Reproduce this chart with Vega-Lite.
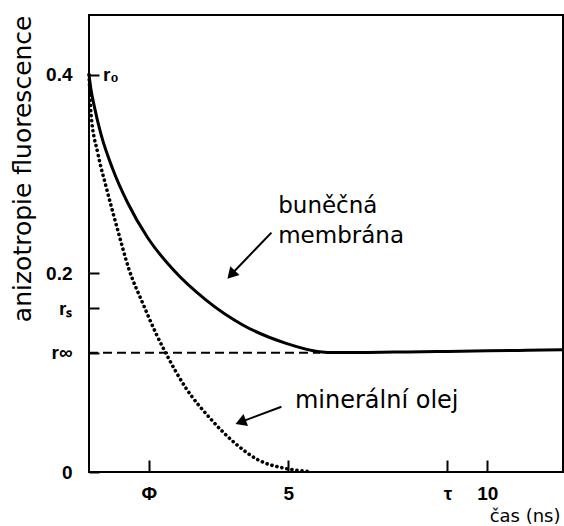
{
  "$schema": "https://vega.github.io/schema/vega-lite/v6.json",
  "width": 474,
  "height": 457,
  "autosize": "none",
  "padding": {"left": 89, "top": 15, "right": 1, "bottom": 54},
  "background": "white",
  "config": {
    "view": {"stroke": "black", "strokeWidth": 2},
    "font": "DejaVu Sans",
    "axis": {"domain": false, "grid": false, "tickColor": "black", "tickWidth": 2, "labelColor": "black", "titleColor": "black", "labelFont": "Liberation Sans", "labelFontWeight": "bold", "titleFont": "DejaVu Sans", "titleFontWeight": "normal"}
  },
  "datasets": {
    "membrane": [
      {"t": 0, "r": 0.40}, {"t": 0.05, "r": 0.385}, {"t": 0.133, "r": 0.368}, {"t": 0.30, "r": 0.340},
      {"t": 0.595, "r": 0.305}, {"t": 0.97, "r": 0.271}, {"t": 1.47, "r": 0.236}, {"t": 2.14, "r": 0.2025},
      {"t": 2.94, "r": 0.173}, {"t": 3.86, "r": 0.148}, {"t": 4.95, "r": 0.1295}, {"t": 5.78, "r": 0.1211},
      {"t": 6.2, "r": 0.1202}, {"t": 7, "r": 0.1204}, {"t": 8, "r": 0.1209}, {"t": 9, "r": 0.1214},
      {"t": 10, "r": 0.122}, {"t": 11, "r": 0.1225}, {"t": 11.9, "r": 0.123}
    ],
    "oil": [
      {"t": 0, "r": 0.40}, {"t": 0.05, "r": 0.361}, {"t": 0.22, "r": 0.321}, {"t": 0.43, "r": 0.287},
      {"t": 0.72, "r": 0.2436}, {"t": 1.01, "r": 0.2033}, {"t": 1.35, "r": 0.1698}, {"t": 1.68, "r": 0.1396},
      {"t": 1.93, "r": 0.1195}, {"t": 2.41, "r": 0.0859}, {"t": 3.08, "r": 0.0523}, {"t": 3.67, "r": 0.0289},
      {"t": 4.25, "r": 0.0121}, {"t": 4.92, "r": 0.0037}, {"t": 5.59, "r": 0.0003}
    ],
    "rinf": [{"t": 0, "r": 0.12}, {"t": 5.8, "r": 0.12}],
    "arrows": [
      {"id": "m", "t": 4.58, "r": 0.241, "t2": 3.6, "r2": 0.2},
      {"id": "o", "t": 4.83, "r": 0.0657, "t2": 3.85, "r2": 0.051}
    ],
    "heads": [
      {"id": "m", "t": 3.6, "r": 0.2},
      {"id": "o", "t": 3.85, "r": 0.051}
    ],
    "labels": [
      {"id": "m", "t": 4.75, "r": 0.2607, "text": ["buněčná", "membrána"]},
      {"id": "o", "t": 5.17, "r": 0.0644, "text": ["minerální olej"]},
      {"id": "r0", "t": 0.35, "r": 0.4, "text": ["r₀"]}
    ]
  },
  "encoding": {
    "x": {"field": "t", "type": "quantitative", "scale": {"domain": [0, 11.9], "nice": false, "zero": false},
      "axis": {"values": [1.5, 5, 9, 10], "labelExpr": "datum.value == 1.5 ? 'Φ' : datum.value == 9 ? 'τ' : datum.value == 5 ? '5' : '10'", "tickSize": -12, "labelPadding": 24, "labelFontSize": 19, "title": "čas (ns)", "titleAnchor": "end", "titleX": 471, "titleFontSize": 18, "titlePadding": 4}},
    "y": {"field": "r", "type": "quantitative", "scale": {"domain": [0, 0.46], "nice": false},
      "axis": {"values": [0, 0.12, 0.165, 0.2, 0.4], "labelExpr": "datum.value == 0.4 ? '0.4' : datum.value == 0.2 ? '0.2' : datum.value == 0.165 ? 'rₛ' : datum.value == 0.12 ? 'r∞' : '0'", "tickSize": -10, "labelPadding": 27, "labelFontSize": 19, "title": "anizotropie fluorescence", "titleFontSize": 25, "titleAnchor": "end", "titlePadding": 10}}
  },
  "layer": [
    {"data": {"name": "rinf"}, "mark": {"type": "line", "color": "black", "strokeWidth": 2, "strokeDash": [9, 5]}},
    {"data": {"name": "oil"}, "mark": {"type": "line", "color": "black", "strokeWidth": 3.6, "strokeDash": [0.1, 5], "strokeCap": "round", "interpolate": "monotone"}},
    {"data": {"name": "membrane"}, "mark": {"type": "line", "color": "black", "strokeWidth": 3, "interpolate": "monotone"}},
    {"data": {"name": "arrows"}, "mark": {"type": "rule", "color": "black", "strokeWidth": 2},
      "encoding": {"x2": {"field": "t2"}, "y2": {"field": "r2"}}},
    {"data": {"name": "heads"}, "transform": [{"filter": "datum.id == 'm'"}],
      "mark": {"type": "point", "shape": "triangle", "filled": true, "color": "black", "size": 160, "angle": 223, "opacity": 1}},
    {"data": {"name": "heads"}, "transform": [{"filter": "datum.id == 'o'"}],
      "mark": {"type": "point", "shape": "triangle", "filled": true, "color": "black", "size": 160, "angle": 249, "opacity": 1}},
    {"data": {"name": "labels"}, "transform": [{"filter": "datum.id == 'm'"}],
      "mark": {"type": "text", "align": "left", "baseline": "alphabetic", "fontSize": 23, "lineHeight": 30, "font": "DejaVu Sans", "color": "black"},
      "encoding": {"text": {"field": "text"}}},
    {"data": {"name": "labels"}, "transform": [{"filter": "datum.id == 'o'"}],
      "mark": {"type": "text", "align": "left", "baseline": "alphabetic", "fontSize": 24, "font": "DejaVu Sans", "color": "black"},
      "encoding": {"text": {"field": "text"}}},
    {"data": {"name": "labels"}, "transform": [{"filter": "datum.id == 'r0'"}],
      "mark": {"type": "text", "align": "left", "baseline": "middle", "fontSize": 19, "fontWeight": "bold", "font": "Liberation Sans", "color": "black"},
      "encoding": {"text": {"field": "text"}}}
  ]
}
